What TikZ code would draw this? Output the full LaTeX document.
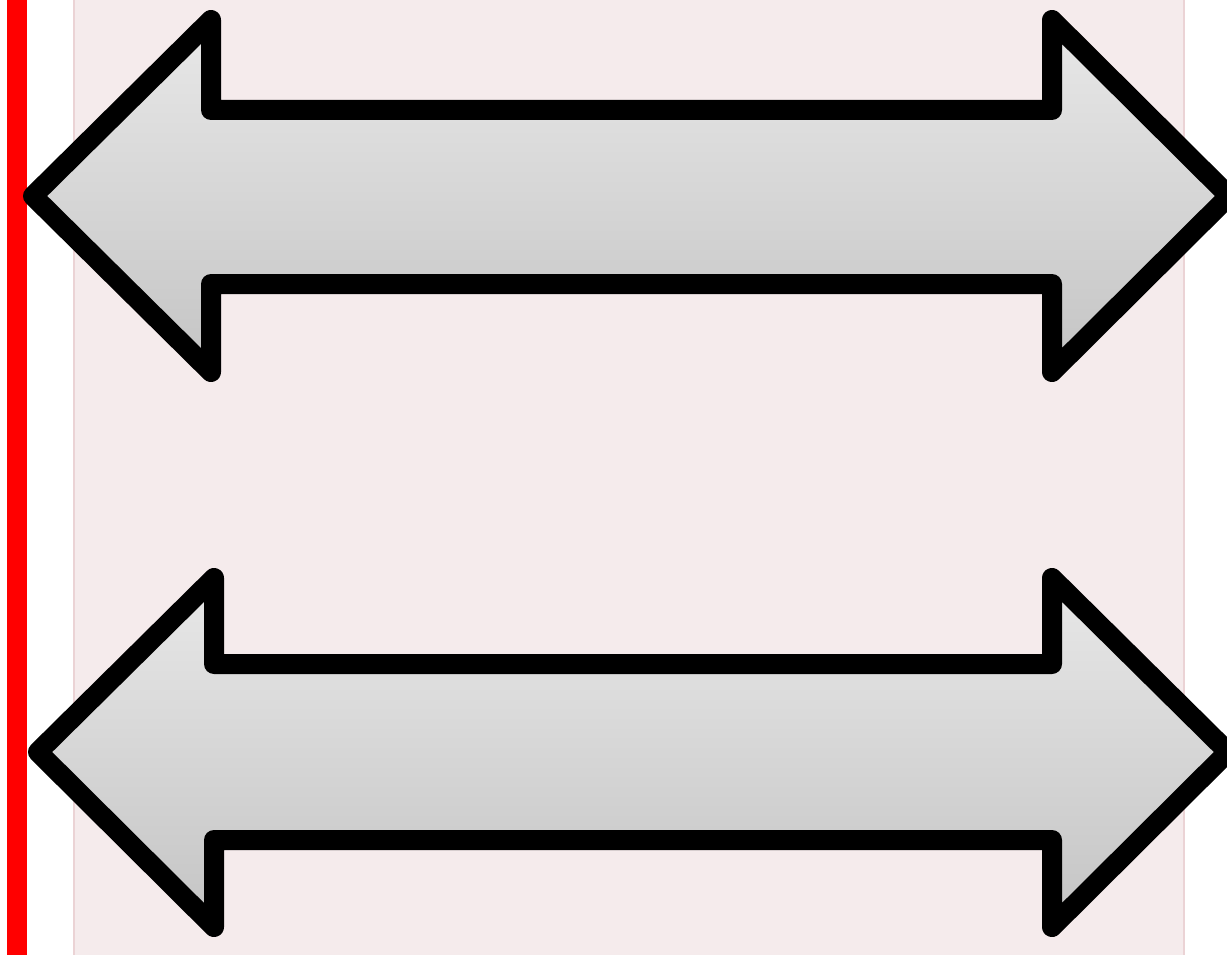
\documentclass[tikz,border=0pt]{standalone}
\begin{document}
\begin{tikzpicture}[x=1pt,y=-1pt,
  arrowshape/.style={draw=black, line width=20pt, line join=round,
    top color=arrowtop, bottom color=arrowbot}]
\definecolor{pinkbg}{HTML}{F5EBEC}
\definecolor{pinkedge}{HTML}{EBD3D5}
\definecolor{arrowtop}{HTML}{E8E8E8}
\definecolor{arrowbot}{HTML}{C4C4C4}
\useasboundingbox (0,0) rectangle (1227,955);
\clip (0,0) rectangle (1227,955);
\fill[white] (0,0) rectangle (1227,955);
\fill[red] (7,0) rectangle (27,955);
\draw[pinkedge, fill=pinkbg, line width=2pt] (74,-5) rectangle (1184,960);
% top double arrow
\path[arrowshape] (33,196) -- (211,20) -- (211,110) -- (1052,110) -- (1052,20)
  -- (1229,196) -- (1052,372) -- (1052,284) -- (211,284) -- (211,372) -- cycle;
% bottom double arrow
\path[arrowshape] (38,752) -- (214,578) -- (214,664) -- (1052,664) -- (1052,578)
  -- (1228,752) -- (1052,927) -- (1052,840) -- (214,840) -- (214,927) -- cycle;
\end{tikzpicture}
\end{document}
